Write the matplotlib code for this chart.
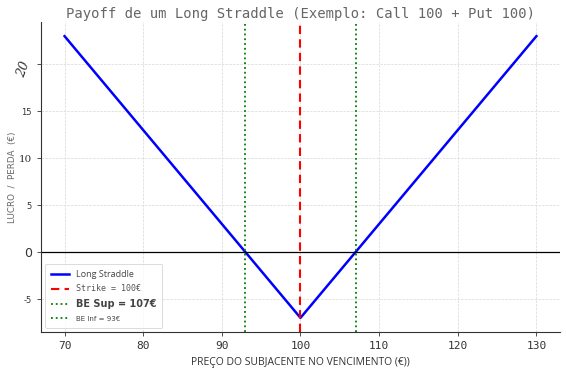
import numpy as np
import matplotlib
matplotlib.use("Agg")
import matplotlib.pyplot as plt

# Data
strike = 100
premium = 7
be_low = 93
be_high = 107
prices = [70, 100, 130]
payoff = [23, -7, 23]
yticks = [-5, 0, 5, 10, 15, 20]
xticks = [70, 80, 90, 100, 110, 120, 130]

fig = plt.figure(figsize=(5.66, 3.68), dpi=100)
ax = fig.add_axes([0.0724, 0.098, 0.917, 0.842])

ax.plot(prices, payoff, color="blue", lw=1.8, label="Long Straddle")
ax.axvline(strike, color="red", ls=(0, (4, 2.5)), lw=1.5, label=f"Strike = {strike}€")
ax.axvline(be_high, color="green", ls=":", lw=1.3, label=f"BE Sup = {be_high}€")
ax.axvline(be_low, color="green", ls=":", lw=1.3, label=f"BE Inf = {be_low}€")
ax.axhline(0, color="black", lw=0.9)

ax.set_xticks(xticks)
ax.set_xticklabels([str(x) for x in xticks], family="DejaVu Sans Mono", fontsize=8, color="#555555")
ax.set_yticks(yticks)
ax.set_yticklabels([str(y) for y in yticks], fontsize=6, color="#555555")
# mismatched tick label fonts as in the reference
for lbl in ax.get_yticklabels():
    if lbl.get_text() == "0":
        lbl.set_fontsize(9)
        lbl.set_color("#222222")
    if lbl.get_text() == "10":
        lbl.set_fontsize(7.5)
        lbl.set_fontfamily("DejaVu Serif")
    if lbl.get_text() == "20":
        lbl.set_fontsize(9)
        lbl.set_fontfamily("DejaVu Serif")
        lbl.set_fontstyle("italic")
        lbl.set_rotation(70)

ax.grid(True, ls="--", lw=0.5, color="#d8d8d8")
ax.spines["top"].set_visible(False)
ax.spines["right"].set_visible(False)
ax.spines["left"].set_color("#333333")
ax.spines["bottom"].set_color("#333333")
ax.tick_params(length=3, width=0.6, colors="#333333")

ax.set_title("Payoff de um Long Straddle (Exemplo: Call 100 + Put 100)",
             family="DejaVu Sans Mono", fontsize=10, color="#666666", pad=3)
ax.set_xlabel("PREÇO DO SUBJACENTE NO VENCIMENTO (€))", family="Open Sans",
              fontsize=7.5, color="#333333", labelpad=4)
ax.set_ylabel("LUCRO  /  PERDA  (€)", fontsize=6.3, color="#666666")
ax.yaxis.set_label_coords(-0.046, 0.5)

leg = ax.legend(loc="lower left", fontsize=6, frameon=True, borderpad=0.7,
                handlelength=2.2, labelspacing=0.7)
leg.get_frame().set_edgecolor("#cccccc")
leg.get_frame().set_linewidth(0.6)
texts = leg.get_texts()
texts[0].set_fontfamily("Open Sans")
texts[0].set_fontsize(6.5)
texts[0].set_color("#444444")
texts[1].set_fontfamily("DejaVu Sans Mono")
texts[1].set_fontsize(6)
texts[1].set_color("#555555")
texts[2].set_fontweight("bold")
texts[2].set_fontsize(7)
texts[2].set_color("#444444")
texts[3].set_fontsize(5)
texts[3].set_color("#444444")

fig.savefig("out.png", dpi=100)
